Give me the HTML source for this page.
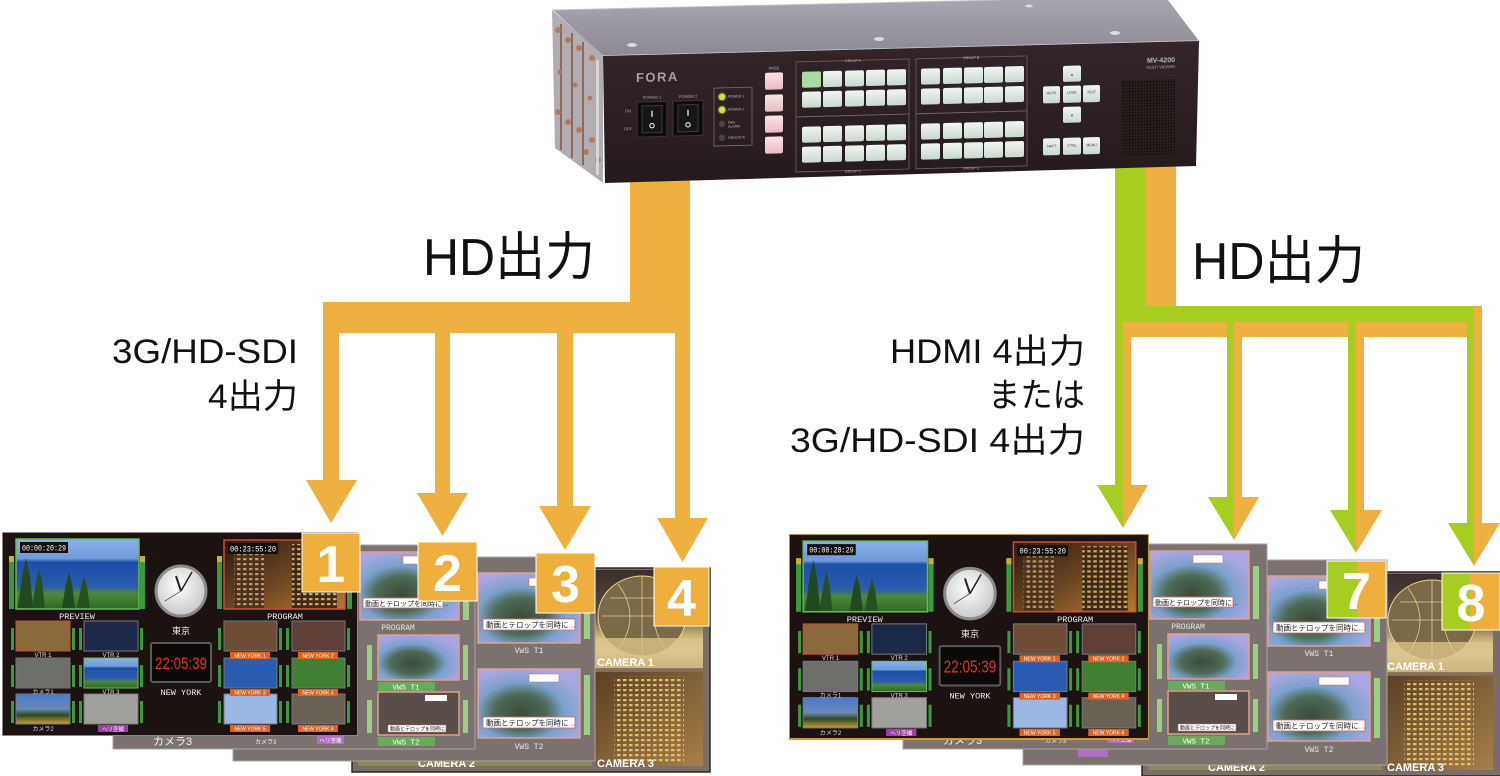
<!DOCTYPE html>
<html><head><meta charset="utf-8">
<style>
html,body{margin:0;padding:0;background:#fff;}
svg{display:block;}
text{font-family:"Liberation Sans","Noto Sans CJK JP",sans-serif;}
.m{font-family:"Liberation Mono","Noto Sans CJK JP",monospace;}
</style></head>
<body>
<svg width="1500" height="776" viewBox="0 0 1500 776" xmlns="http://www.w3.org/2000/svg">
<defs>
<linearGradient id="gTop" x1="0" y1="0" x2="0" y2="1"><stop offset="0" stop-color="#a8a5ae"/><stop offset="1" stop-color="#8c8994"/></linearGradient>
<linearGradient id="gFront" x1="0" y1="0" x2="0" y2="1"><stop offset="0" stop-color="#33252a"/><stop offset="1" stop-color="#251a1b"/></linearGradient>
<linearGradient id="gBtn" x1="0" y1="0" x2="0" y2="1"><stop offset="0" stop-color="#f0f6f2"/><stop offset="1" stop-color="#c9d8cf"/></linearGradient>
<linearGradient id="gPink" x1="0" y1="0" x2="0" y2="1"><stop offset="0" stop-color="#fae3e6"/><stop offset="1" stop-color="#e9bcc3"/></linearGradient>
<linearGradient id="gPrev" x1="0" y1="0" x2="0" y2="1"><stop offset="0" stop-color="#8ab2ea"/><stop offset="0.28" stop-color="#6d9ad8"/><stop offset="0.33" stop-color="#1d4fa8"/><stop offset="0.68" stop-color="#2a5cb0"/><stop offset="0.78" stop-color="#4a8a3a"/><stop offset="1" stop-color="#2f6a22"/></linearGradient>
<linearGradient id="gProg" x1="0" y1="0" x2="1" y2="1"><stop offset="0" stop-color="#2a1a12"/><stop offset="0.5" stop-color="#6a4420"/><stop offset="1" stop-color="#b87a30"/></linearGradient>
<linearGradient id="gMt" x1="0" y1="0" x2="0" y2="1"><stop offset="0" stop-color="#4a7ad0"/><stop offset="0.5" stop-color="#6a8ab0"/><stop offset="0.7" stop-color="#2a4a28"/><stop offset="1" stop-color="#c8a030"/></linearGradient>
<radialGradient id="gClock" cx="0.45" cy="0.4" r="0.6"><stop offset="0" stop-color="#ffffff"/><stop offset="1" stop-color="#c8c8c8"/></radialGradient>
<radialGradient id="gGlobe" cx="0.42" cy="0.62" r="0.65"><stop offset="0" stop-color="#3d4a38"/><stop offset="0.4" stop-color="#4e6a58"/><stop offset="0.65" stop-color="#7aa2cc"/><stop offset="1" stop-color="#aaa6e2"/></radialGradient>
<linearGradient id="gDome" x1="0" y1="0" x2="0" y2="1"><stop offset="0" stop-color="#3a2e2c"/><stop offset="0.45" stop-color="#5c4c3a"/><stop offset="0.65" stop-color="#c8b070"/><stop offset="0.8" stop-color="#e8d8a4"/><stop offset="1" stop-color="#8a7048"/></linearGradient>
<linearGradient id="gBuild" x1="0" y1="0" x2="1" y2="1"><stop offset="0" stop-color="#5a4024"/><stop offset="1" stop-color="#a88048"/></linearGradient>
<pattern id="pWin" width="6" height="5" patternUnits="userSpaceOnUse"><rect x="1" y="1" width="3.5" height="2.2" fill="#f2c868"/></pattern>
<pattern id="pGrille" width="3" height="3" patternUnits="userSpaceOnUse"><rect width="3" height="3" fill="#2a1e1e"/><circle cx="1.5" cy="1.5" r="0.9" fill="#0e0808"/></pattern>
</defs>

<rect width="1500" height="776" fill="#fff"/>

<!-- ===== LEFT ORANGE ARROWS ===== -->
<g fill="#EEB03F">
<rect x="630" y="150" width="60" height="183"/>
<rect x="323" y="302" width="367" height="31"/>
<rect x="323" y="302" width="16" height="180"/>
<polygon points="306,480 357,480 331,523"/>
<rect x="435" y="330" width="15" height="165"/>
<polygon points="417,493 468,493 442.5,536"/>
<rect x="557" y="330" width="16" height="178"/>
<polygon points="539,506 591,506 565,550"/>
<rect x="675" y="330" width="15" height="190"/>
<polygon points="657,518 708,518 682.5,562"/>
</g>

<!-- ===== RIGHT GREEN/ORANGE ARROWS ===== -->
<g fill="#EEB03F">
<rect x="1146" y="150" width="30" height="160"/>
<rect x="1123" y="322" width="344" height="15"/>
<rect x="1474" y="306" width="8" height="219"/>
<rect x="1123" y="322" width="8" height="165"/>
<rect x="1234" y="322" width="8" height="177"/>
<rect x="1356" y="322" width="8" height="190"/>
<polygon points="1123,485 1148,485 1123,528"/>
<polygon points="1234,497 1259,497 1234,540"/>
<polygon points="1356,510 1382,510 1356,553"/>
<polygon points="1474,523 1500,523 1474,566"/>
</g>
<g fill="#A7CD21">
<rect x="1115" y="150" width="31" height="172"/>
<rect x="1115" y="306" width="359" height="16"/>
<rect x="1115" y="306" width="8" height="181"/>
<rect x="1227" y="306" width="7" height="193"/>
<rect x="1348" y="306" width="8" height="206"/>
<rect x="1467" y="306" width="7" height="219"/>
<polygon points="1097,485 1123,485 1123,528"/>
<polygon points="1208,497 1234,497 1234,540"/>
<polygon points="1330,510 1356,510 1356,553"/>
<polygon points="1448,523 1474,523 1474,566"/>
</g>

<!-- ===== DEVICE ===== -->
<g>
<polygon points="553,10 1000,0 1168,0 1199,41 603,56" fill="url(#gTop)"/>
<line x1="603" y1="56" x2="1199" y2="41" stroke="#cfcbd3" stroke-width="1.5"/>
<line x1="553" y1="10" x2="1000" y2="0" stroke="#c4c0c8" stroke-width="1"/>
<ellipse cx="632" cy="45" rx="5" ry="2" fill="#dcdade"/>
<ellipse cx="879" cy="39" rx="5" ry="2" fill="#dcdade"/>
<ellipse cx="1115" cy="33" rx="5" ry="2" fill="#dcdade"/>
<ellipse cx="1029" cy="6" rx="4" ry="1.5" fill="#dcdade"/>
<polygon points="552,10 603,55 603,183 555,148" fill="#b2adb3"/>
<g fill="none" stroke="#8a6a5a" stroke-width="2">
<line x1="561" y1="24" x2="561" y2="150"/>
<line x1="572" y1="33" x2="572" y2="158"/>
<line x1="583" y1="42" x2="583" y2="165"/>
</g>
<g fill="#b47a5e">
<circle cx="558" cy="30" r="3"/><circle cx="568" cy="40" r="3"/><circle cx="579" cy="48" r="3"/><circle cx="592" cy="58" r="3"/>
<circle cx="558" cy="112" r="3"/><circle cx="568" cy="122" r="3"/><circle cx="579" cy="130" r="3"/><circle cx="592" cy="140" r="3"/>
<circle cx="560" cy="72" r="2.5"/><circle cx="575" cy="85" r="2.5"/><circle cx="590" cy="98" r="2.5"/>
<circle cx="598" cy="160" r="3"/><circle cx="586" cy="152" r="3"/>
</g>
<rect x="596" y="60" width="3" height="115" fill="#d8d4d8"/>
<polygon points="603,56 1199,41 1196,166 605,183" fill="url(#gFront)"/>
<g transform="translate(603,56) skewY(-1.5)">
<text x="33" y="27" font-size="13" fill="#a9a0a2" font-weight="bold" letter-spacing="1.5">FORA</text>
<text x="49" y="44" font-size="4" fill="#aaa" text-anchor="middle">POWER 1</text>
<text x="85" y="44" font-size="4" fill="#aaa" text-anchor="middle">POWER 2</text>
<text x="22" y="57" font-size="4" fill="#aaa">ON</text>
<text x="21" y="75" font-size="4" fill="#aaa">OFF</text>
<rect x="34" y="47" width="30" height="35" fill="#0d0b0b" stroke="#3a3434"/>
<rect x="39" y="51" width="20" height="27" fill="#181515" stroke="#4a4444" stroke-width="0.8"/>
<line x1="49" y1="56" x2="49" y2="62" stroke="#fff" stroke-width="1.2"/>
<circle cx="49" cy="71" r="2.2" fill="none" stroke="#fff" stroke-width="1"/>
<rect x="70" y="47" width="30" height="35" fill="#0d0b0b" stroke="#3a3434"/>
<rect x="75" y="51" width="20" height="27" fill="#181515" stroke="#4a4444" stroke-width="0.8"/>
<line x1="85" y1="56" x2="85" y2="62" stroke="#fff" stroke-width="1.2"/>
<circle cx="85" cy="71" r="2.2" fill="none" stroke="#fff" stroke-width="1"/>
<rect x="111" y="35" width="38" height="58" fill="none" stroke="#7a7070" stroke-width="0.8"/>
<circle cx="119" cy="44" r="4.5" fill="#c6e82a" opacity="0.35"/>
<circle cx="119" cy="44" r="3.2" fill="#c9ea2c"/>
<circle cx="119" cy="57" r="4.5" fill="#c6e82a" opacity="0.35"/>
<circle cx="119" cy="57" r="3.2" fill="#c9ea2c"/>
<circle cx="119" cy="71" r="3.2" fill="#4a4646"/>
<circle cx="119" cy="85" r="3.2" fill="#4a4646"/>
<text x="125" y="45" font-size="3.5" fill="#bbb">POWER 1</text>
<text x="125" y="58" font-size="3.5" fill="#bbb">POWER 2</text>
<text x="125" y="71" font-size="3.5" fill="#bbb">FAN</text>
<text x="125" y="75" font-size="3.5" fill="#bbb">ALARM</text>
<text x="125" y="86" font-size="3.5" fill="#bbb">GENLOCK</text>
<text x="171" y="18" font-size="4" fill="#bbb" text-anchor="middle">PAGE</text>
<rect x="162" y="21" width="18" height="17" rx="2" fill="url(#gPink)"/>
<rect x="162" y="43" width="18" height="17" rx="2" fill="url(#gPink)"/>
<rect x="162" y="64" width="18" height="17" rx="2" fill="url(#gPink)"/>
<rect x="162" y="85" width="18" height="17" rx="2" fill="url(#gPink)"/>
<g fill="none" stroke="#6e6262" stroke-width="0.8">
<rect x="193" y="11" width="113" height="55"/><rect x="193" y="66" width="113" height="55"/>
<rect x="313" y="11" width="111" height="55"/><rect x="313" y="66" width="111" height="55"/>
</g>
<g font-size="3.5" fill="#bbb" text-anchor="middle">
<text x="250" y="12.5">GROUP A</text><text x="368" y="12.5">GROUP B</text>
<text x="250" y="123">GROUP C</text><text x="368" y="123">GROUP D</text>
</g>
<g fill="url(#gBtn)">
<rect x="199" y="21" width="19" height="16" rx="2" fill="#a9dca4"/><rect x="220" y="21" width="19" height="16" rx="2"/><rect x="242" y="21" width="19" height="16" rx="2"/><rect x="263" y="21" width="19" height="16" rx="2"/><rect x="284" y="21" width="19" height="16" rx="2"/>
<rect x="199" y="41" width="19" height="16" rx="2"/><rect x="220" y="41" width="19" height="16" rx="2"/><rect x="242" y="41" width="19" height="16" rx="2"/><rect x="263" y="41" width="19" height="16" rx="2"/><rect x="284" y="41" width="19" height="16" rx="2"/>
<rect x="199" y="76" width="19" height="16" rx="2"/><rect x="220" y="76" width="19" height="16" rx="2"/><rect x="242" y="76" width="19" height="16" rx="2"/><rect x="263" y="76" width="19" height="16" rx="2"/><rect x="284" y="76" width="19" height="16" rx="2"/>
<rect x="199" y="96" width="19" height="16" rx="2"/><rect x="220" y="96" width="19" height="16" rx="2"/><rect x="242" y="96" width="19" height="16" rx="2"/><rect x="263" y="96" width="19" height="16" rx="2"/><rect x="284" y="96" width="19" height="16" rx="2"/>
<rect x="318" y="21" width="19" height="16" rx="2"/><rect x="340" y="21" width="19" height="16" rx="2"/><rect x="361" y="21" width="19" height="16" rx="2"/><rect x="381" y="21" width="19" height="16" rx="2"/><rect x="402" y="21" width="19" height="16" rx="2"/>
<rect x="318" y="41" width="19" height="16" rx="2"/><rect x="340" y="41" width="19" height="16" rx="2"/><rect x="361" y="41" width="19" height="16" rx="2"/><rect x="381" y="41" width="19" height="16" rx="2"/><rect x="402" y="41" width="19" height="16" rx="2"/>
<rect x="318" y="76" width="19" height="16" rx="2"/><rect x="340" y="76" width="19" height="16" rx="2"/><rect x="361" y="76" width="19" height="16" rx="2"/><rect x="381" y="76" width="19" height="16" rx="2"/><rect x="402" y="76" width="19" height="16" rx="2"/>
<rect x="318" y="96" width="19" height="16" rx="2"/><rect x="340" y="96" width="19" height="16" rx="2"/><rect x="361" y="96" width="19" height="16" rx="2"/><rect x="381" y="96" width="19" height="16" rx="2"/><rect x="402" y="96" width="19" height="16" rx="2"/>
<rect x="460" y="22" width="18" height="16" rx="2"/>
<rect x="440" y="42" width="17" height="17" rx="2"/><rect x="460" y="42" width="18" height="17" rx="2"/><rect x="480" y="42" width="17" height="17" rx="2"/>
<rect x="460" y="63" width="18" height="16" rx="2"/>
<rect x="440" y="94" width="17" height="17" rx="2"/><rect x="460" y="94" width="18" height="17" rx="2"/><rect x="480" y="94" width="17" height="17" rx="2"/>
</g>
<g font-size="3.5" fill="#333" text-anchor="middle">
<text x="469" y="32">▲</text><text x="469" y="73">▼</text>
<text x="448.5" y="50">MUTE</text><text x="469" y="50">LOCK</text><text x="488.5" y="50">TEST</text>
<text x="448.5" y="103">SHIFT</text><text x="469" y="103">CTRL</text><text x="488.5" y="103">MENU</text>
</g>
<text x="572" y="21" font-size="7" fill="#c0b8b8" text-anchor="end" font-weight="bold">MV-4200</text>
<text x="572" y="27" font-size="4" fill="#b0a8a8" text-anchor="end">MULTI VIEWER</text>
<rect x="518" y="38" width="54" height="77" fill="url(#pGrille)"/>
</g>
</g>

<!-- ===== LABEL TEXT ===== -->
<g fill="#111">
<text x="423" y="275" font-size="52" textLength="172" lengthAdjust="spacingAndGlyphs">HD出力</text>
<text x="1192" y="279" font-size="52" textLength="173" lengthAdjust="spacingAndGlyphs">HD出力</text>
<text x="298" y="363" font-size="34" text-anchor="end" textLength="186" lengthAdjust="spacingAndGlyphs">3G/HD-SDI</text>
<text x="298" y="408" font-size="34" text-anchor="end" textLength="90" lengthAdjust="spacingAndGlyphs">4出力</text>
<text x="1085" y="363" font-size="34" text-anchor="end" textLength="195" lengthAdjust="spacingAndGlyphs">HDMI 4出力</text>
<text x="1085" y="407" font-size="34" text-anchor="end" textLength="97" lengthAdjust="spacingAndGlyphs">または</text>
<text x="1085" y="452" font-size="34" text-anchor="end" textLength="295" lengthAdjust="spacingAndGlyphs">3G/HD-SDI 4出力</text>
</g>

<!-- ===== LEFT SCREENS ===== -->
<g transform="translate(352,568)">
<rect x="0" y="0" width="358" height="204" fill="#7a6e68" stroke="#2e2626" stroke-width="1.5"/>
<rect x="6" y="104" width="234" height="94" fill="#8e8a56"/>
<rect x="243" y="2" width="108" height="100" fill="url(#gDome)"/>
<ellipse cx="290" cy="48" rx="44" ry="40" fill="#7a6a48" stroke="#e8d890" stroke-width="1"/>
<path d="M250,48 H330 M258,30 H322 M290,8 V88 M266,16 Q290,48 266,82 M314,16 Q290,48 314,82" stroke="#e0d08a" stroke-width="0.8" fill="none"/>
<rect x="243" y="70" width="108" height="30" fill="#d8c488" opacity="0.8"/>
<text x="245" y="98" font-size="11" font-weight="bold" fill="#fff">CAMERA 1</text>
<rect x="243" y="104" width="108" height="94" fill="url(#gBuild)"/>
<rect x="262" y="108" width="70" height="88" fill="url(#pWin)" opacity="0.9"/>
<text x="245" y="199" font-size="11" font-weight="bold" fill="#fff">CAMERA 3</text>
<text x="66" y="199" font-size="11" font-weight="bold" fill="#fff">CAMERA 2</text>
</g>
<g transform="translate(233,557)">
<rect x="0" y="0" width="362" height="204" fill="#7b7270" stroke="#aaa4a2"/>
<rect x="351" y="22" width="6" height="60" fill="#9ccf86"/>
<rect x="351" y="118" width="6" height="60" fill="#9ccf86"/>
<rect x="245" y="16" width="102" height="70" fill="url(#gGlobe)" stroke="#e0a08a" stroke-width="1.5"/>
<rect x="296" y="21" width="30" height="8" fill="#fff" stroke="#c66" stroke-width="0.5"/>
<rect x="250" y="62" width="92" height="11" fill="#fff" stroke="#c66" stroke-width="0.8"/>
<text x="253" y="70.5" font-size="7.5" fill="#222">動画とテロップを同時に…</text>
<text class="m" x="296" y="96" font-size="8" fill="#e6e6e6" text-anchor="middle">VWS T1</text>
<rect x="245" y="112" width="102" height="69" fill="url(#gGlobe)" stroke="#e0a08a" stroke-width="1.5"/>
<rect x="296" y="117" width="30" height="8" fill="#fff" stroke="#c66" stroke-width="0.5"/>
<rect x="250" y="160" width="92" height="11" fill="#fff" stroke="#c66" stroke-width="0.8"/>
<text x="253" y="168.5" font-size="7.5" fill="#222">動画とテロップを同時に…</text>
<text class="m" x="296" y="192" font-size="8" fill="#e6e6e6" text-anchor="middle">VWS T2</text>
</g>
<g transform="translate(113,545)">
<rect x="0" y="0" width="362" height="204" fill="#7b7270" stroke="#aaa4a2"/>
<rect x="236" y="25" width="6" height="50" fill="#9ccf86"/>
<rect x="350" y="22" width="6" height="53" fill="#9ccf86"/>
<rect x="247" y="7" width="99" height="68" fill="url(#gGlobe)" stroke="#e0a08a" stroke-width="1.5"/>
<rect x="290" y="11" width="30" height="8" fill="#fff" stroke="#c66" stroke-width="0.5"/>
<rect x="250" y="53" width="80" height="10" fill="#fff" stroke="#c66" stroke-width="0.8"/>
<text x="252" y="61" font-size="7" fill="#222">動画とテロップを同時に…</text>
<text class="m" x="285" y="85" font-size="8" fill="#e6e6e6" text-anchor="middle">PROGRAM</text>
<rect x="254" y="100" width="5" height="35" fill="#9ccf86"/>
<rect x="350" y="100" width="5" height="35" fill="#9ccf86"/>
<rect x="265" y="90" width="81" height="45" fill="url(#gGlobe)" stroke="#e0a08a" stroke-width="1.5"/>
<rect x="265" y="137" width="57" height="9" fill="#6aaa5e"/>
<text class="m" x="293" y="144.5" font-size="7.5" fill="#fff" text-anchor="middle">VWS T1</text>
<rect x="254" y="155" width="5" height="33" fill="#9ccf86"/>
<rect x="350" y="155" width="5" height="33" fill="#9ccf86"/>
<rect x="265" y="147" width="81" height="43" fill="#5a4e4a" stroke="#e0a08a" stroke-width="1.5"/>
<rect x="312" y="150" width="22" height="6" fill="#fff"/>
<rect x="275" y="180" width="58" height="7" fill="#fff" stroke="#c66" stroke-width="0.5"/>
<text x="277" y="185.5" font-size="5" fill="#222">動画とテロップを同時に…</text>
<rect x="265" y="192" width="57" height="9" fill="#6aaa5e"/>
<text class="m" x="293" y="199.5" font-size="7.5" fill="#fff" text-anchor="middle">VWS T2</text>
<text x="40" y="200" font-size="11" fill="#f2f2f2">カメラ3</text>
<text x="142" y="199" font-size="6" fill="#eee">カメラ3</text>
<rect x="204" y="191" width="27" height="8" fill="#b070c0"/>
<text x="217.5" y="197.5" font-size="5.5" fill="#fff" text-anchor="middle">ヘリ空撮</text>
</g>
<g transform="translate(2,532)">
<rect x="0.5" y="0.5" width="355" height="203" fill="#1c1212" stroke="#8e8686"/>
<rect x="7" y="24" width="5" height="53" fill="#3a9a3c"/><rect x="7" y="24" width="5" height="6" fill="#c8b030"/>
<rect x="138" y="24" width="5" height="53" fill="#3a9a3c"/><rect x="138" y="24" width="5" height="6" fill="#c8b030"/>
<rect x="14" y="7" width="123" height="70" fill="url(#gPrev)" stroke="#66bb4a" stroke-width="1.5"/>
<polygon points="16,76 20,45 24,26 28,45 31,76" fill="#1f4a1c"/>
<polygon points="30,76 34,50 37,36 40,50 43,76" fill="#24521e"/>
<polygon points="60,76 64,52 67,40 70,52 73,76" fill="#1f4a1c"/>
<polygon points="75,76 79,55 82,44 85,55 88,76" fill="#24521e"/>
<rect x="18" y="10" width="48" height="11" fill="#151010"/>
<text class="m" x="42" y="18.5" font-size="8" fill="#fff" text-anchor="middle" textLength="44" lengthAdjust="spacingAndGlyphs">00:00:20:29</text>
<text class="m" x="75" y="87" font-size="8.5" fill="#eee" text-anchor="middle">PREVIEW</text>
<circle cx="179" cy="59" r="25" fill="url(#gClock)" stroke="#8a8a8a" stroke-width="3"/>
<line x1="179" y1="59" x2="174" y2="44" stroke="#222" stroke-width="2"/>
<line x1="179" y1="59" x2="190" y2="40" stroke="#222" stroke-width="1.5"/>
<line x1="179" y1="59" x2="163" y2="69" stroke="#333" stroke-width="0.7"/>
<text x="179" y="102" font-size="9" fill="#eee" text-anchor="middle">東京</text>
<rect x="149" y="111" width="60" height="39" rx="2" fill="#0d0909" stroke="#5a5a5a" stroke-width="2"/>
<text x="179" y="137" font-size="17" fill="#e0332a" text-anchor="middle" textLength="52" lengthAdjust="spacingAndGlyphs">22:05:39</text>
<text class="m" x="179" y="163" font-size="8.5" fill="#eee" text-anchor="middle">NEW YORK</text>
<rect x="215" y="24" width="5" height="53" fill="#3a9a3c"/><rect x="215" y="24" width="5" height="6" fill="#c8b030"/>
<rect x="345" y="24" width="5" height="53" fill="#3a9a3c"/><rect x="345" y="24" width="5" height="6" fill="#c8b030"/>
<rect x="222" y="8" width="121" height="69" fill="url(#gProg)" stroke="#d04a38" stroke-width="1.5"/>
<rect x="232" y="20" width="30" height="56" fill="#4a3220"/><rect x="232" y="20" width="30" height="56" fill="url(#pWin)" opacity="0.7"/>
<rect x="290" y="12" width="45" height="64" fill="#3e2a1a"/><rect x="290" y="12" width="45" height="64" fill="url(#pWin)" opacity="0.8"/>
<rect x="226" y="11" width="50" height="11" fill="#151010"/>
<text class="m" x="251" y="19.5" font-size="8" fill="#fff" text-anchor="middle" textLength="46" lengthAdjust="spacingAndGlyphs">00:23:55:20</text>
<text class="m" x="283" y="87" font-size="8.5" fill="#eee" text-anchor="middle">PROGRAM</text>
<g fill="#3a9a3c">
<rect x="9" y="96" width="3" height="22"/><rect x="70" y="96" width="3" height="22"/><rect x="77" y="96" width="3" height="22"/><rect x="138" y="96" width="3" height="22"/>
<rect x="9" y="133" width="3" height="22"/><rect x="70" y="133" width="3" height="22"/><rect x="77" y="133" width="3" height="22"/><rect x="138" y="133" width="3" height="22"/>
<rect x="9" y="169" width="3" height="22"/><rect x="70" y="169" width="3" height="22"/><rect x="77" y="169" width="3" height="22"/><rect x="138" y="169" width="3" height="22"/>
<rect x="216" y="96" width="3" height="22"/><rect x="277" y="96" width="3" height="22"/><rect x="284" y="96" width="3" height="22"/><rect x="345" y="96" width="3" height="22"/>
<rect x="216" y="133" width="3" height="22"/><rect x="277" y="133" width="3" height="22"/><rect x="284" y="133" width="3" height="22"/><rect x="345" y="133" width="3" height="22"/>
<rect x="216" y="169" width="3" height="22"/><rect x="277" y="169" width="3" height="22"/><rect x="284" y="169" width="3" height="22"/><rect x="345" y="169" width="3" height="22"/>
</g>
<rect x="14" y="89" width="54" height="30" fill="#8a6a3a" stroke="#d04a38"/>
<rect x="82" y="89" width="54" height="30" fill="#1c2a48" stroke="#777"/>
<rect x="14" y="126" width="54" height="30" fill="#6e6e6a" stroke="#777"/>
<rect x="82" y="126" width="54" height="30" fill="url(#gPrev)" stroke="#66bb4a"/>
<rect x="14" y="162" width="54" height="30" fill="url(#gMt)" stroke="#777"/>
<rect x="82" y="162" width="54" height="30" fill="#a0a09c" stroke="#777"/>
<g class="m" font-size="6" fill="#ddd" text-anchor="middle">
<text x="41" y="125">VTR 1</text><text x="109" y="125">VTR 2</text>
<text x="41" y="162">カメラ1</text><text x="109" y="162">VTR 3</text>
<text x="41" y="199">カメラ2</text>
</g>
<rect x="96" y="193" width="30" height="7" fill="#9a40a8"/>
<text x="111" y="199" font-size="5.5" fill="#fff" text-anchor="middle">ヘリ空撮</text>
<rect x="222" y="89" width="53" height="30" fill="#6e4e36" stroke="#777"/>
<rect x="290" y="89" width="53" height="30" fill="#5e4038" stroke="#777"/>
<rect x="222" y="126" width="53" height="30" fill="#2a5cb4" stroke="#777"/>
<rect x="290" y="126" width="53" height="30" fill="#3f8032" stroke="#777"/>
<rect x="222" y="162" width="53" height="30" fill="#9ab8e4" stroke="#777"/>
<rect x="290" y="162" width="53" height="30" fill="#6a6254" stroke="#777"/>
<g fill="#e0621c">
<rect x="228" y="120" width="40" height="7"/><rect x="296" y="120" width="40" height="7"/>
<rect x="228" y="157" width="40" height="7"/><rect x="296" y="157" width="40" height="7"/>
<rect x="228" y="193" width="40" height="7"/><rect x="296" y="193" width="40" height="7"/>
</g>
<g font-size="5" fill="#fff" text-anchor="middle">
<text x="248" y="125.5">NEW YORK 1</text><text x="316" y="125.5">NEW YORK 2</text>
<text x="248" y="162.5">NEW YORK 3</text><text x="316" y="162.5">NEW YORK 4</text>
<text x="248" y="198.5">NEW YORK 5</text><text x="316" y="198.5">NEW YORK 6</text>
</g>
</g>

<!-- ===== RIGHT SCREENS ===== -->
<g transform="translate(1142,572)">
<rect x="0" y="0" width="362" height="204" fill="#7a6e68" stroke="#2e2626" stroke-width="1.5"/>
<rect x="6" y="104" width="234" height="94" fill="#8e8a56"/>
<rect x="243" y="2" width="108" height="100" fill="url(#gDome)"/>
<ellipse cx="290" cy="48" rx="44" ry="40" fill="#7a6a48" stroke="#e8d890" stroke-width="1"/>
<path d="M250,48 H330 M258,30 H322 M290,8 V88 M266,16 Q290,48 266,82 M314,16 Q290,48 314,82" stroke="#e0d08a" stroke-width="0.8" fill="none"/>
<rect x="243" y="70" width="108" height="30" fill="#d8c488" opacity="0.8"/>
<text x="245" y="98" font-size="11" font-weight="bold" fill="#fff">CAMERA 1</text>
<rect x="243" y="104" width="108" height="94" fill="url(#gBuild)"/>
<rect x="262" y="108" width="70" height="88" fill="url(#pWin)" opacity="0.9"/>
<text x="245" y="199" font-size="11" font-weight="bold" fill="#fff">CAMERA 3</text>
<text x="66" y="199" font-size="11" font-weight="bold" fill="#fff">CAMERA 2</text>
</g>
<g transform="translate(1023,560)">
<rect x="0" y="0" width="364" height="205" fill="#7b7270" stroke="#aaa4a2"/>
<rect x="351" y="22" width="6" height="60" fill="#9ccf86"/>
<rect x="351" y="118" width="6" height="60" fill="#9ccf86"/>
<rect x="245" y="16" width="102" height="70" fill="url(#gGlobe)" stroke="#e0a08a" stroke-width="1.5"/>
<rect x="296" y="21" width="30" height="8" fill="#fff" stroke="#c66" stroke-width="0.5"/>
<rect x="250" y="62" width="92" height="11" fill="#fff" stroke="#c66" stroke-width="0.8"/>
<text x="253" y="70.5" font-size="7.5" fill="#222">動画とテロップを同時に…</text>
<text class="m" x="296" y="96" font-size="8" fill="#e6e6e6" text-anchor="middle">VWS T1</text>
<rect x="245" y="112" width="102" height="69" fill="url(#gGlobe)" stroke="#e0a08a" stroke-width="1.5"/>
<rect x="296" y="117" width="30" height="8" fill="#fff" stroke="#c66" stroke-width="0.5"/>
<rect x="250" y="160" width="92" height="11" fill="#fff" stroke="#c66" stroke-width="0.8"/>
<text x="253" y="168.5" font-size="7.5" fill="#222">動画とテロップを同時に…</text>
<text class="m" x="296" y="192" font-size="8" fill="#e6e6e6" text-anchor="middle">VWS T2</text>
<rect x="55" y="189" width="30" height="8" fill="#b070c0"/>
</g>
<g transform="translate(903,544)">
<rect x="0" y="0" width="364" height="205" fill="#7b7270" stroke="#aaa4a2"/>
<rect x="236" y="25" width="6" height="50" fill="#9ccf86"/>
<rect x="350" y="22" width="6" height="53" fill="#9ccf86"/>
<rect x="247" y="7" width="99" height="68" fill="url(#gGlobe)" stroke="#e0a08a" stroke-width="1.5"/>
<rect x="290" y="11" width="30" height="8" fill="#fff" stroke="#c66" stroke-width="0.5"/>
<rect x="250" y="53" width="80" height="10" fill="#fff" stroke="#c66" stroke-width="0.8"/>
<text x="252" y="61" font-size="7" fill="#222">動画とテロップを同時に…</text>
<text class="m" x="285" y="85" font-size="8" fill="#e6e6e6" text-anchor="middle">PROGRAM</text>
<rect x="254" y="100" width="5" height="35" fill="#9ccf86"/>
<rect x="350" y="100" width="5" height="35" fill="#9ccf86"/>
<rect x="265" y="90" width="81" height="45" fill="url(#gGlobe)" stroke="#e0a08a" stroke-width="1.5"/>
<rect x="265" y="137" width="57" height="9" fill="#6aaa5e"/>
<text class="m" x="293" y="144.5" font-size="7.5" fill="#fff" text-anchor="middle">VWS T1</text>
<rect x="254" y="155" width="5" height="33" fill="#9ccf86"/>
<rect x="350" y="155" width="5" height="33" fill="#9ccf86"/>
<rect x="265" y="147" width="81" height="43" fill="#5a4e4a" stroke="#e0a08a" stroke-width="1.5"/>
<rect x="312" y="150" width="22" height="6" fill="#fff"/>
<rect x="275" y="180" width="58" height="7" fill="#fff" stroke="#c66" stroke-width="0.5"/>
<text x="277" y="185.5" font-size="5" fill="#222">動画とテロップを同時に…</text>
<rect x="265" y="192" width="57" height="9" fill="#6aaa5e"/>
<text class="m" x="293" y="199.5" font-size="7.5" fill="#fff" text-anchor="middle">VWS T2</text>
<text x="40" y="200" font-size="11" fill="#f2f2f2">カメラ3</text>
<text x="142" y="199" font-size="6" fill="#eee">カメラ3</text>
<rect x="204" y="191" width="27" height="8" fill="#b070c0"/>
<text x="217.5" y="197.5" font-size="5.5" fill="#fff" text-anchor="middle">ヘリ空撮</text>
</g>
<g transform="translate(789,534) scale(1.011,1.01)">
<rect x="0.5" y="0.5" width="355" height="203" fill="#1c1212" stroke="#b8924a"/>
<rect x="7" y="24" width="5" height="53" fill="#3a9a3c"/><rect x="7" y="24" width="5" height="6" fill="#c8b030"/>
<rect x="138" y="24" width="5" height="53" fill="#3a9a3c"/><rect x="138" y="24" width="5" height="6" fill="#c8b030"/>
<rect x="14" y="7" width="123" height="70" fill="url(#gPrev)" stroke="#66bb4a" stroke-width="1.5"/>
<polygon points="16,76 20,45 24,26 28,45 31,76" fill="#1f4a1c"/>
<polygon points="30,76 34,50 37,36 40,50 43,76" fill="#24521e"/>
<polygon points="60,76 64,52 67,40 70,52 73,76" fill="#1f4a1c"/>
<polygon points="75,76 79,55 82,44 85,55 88,76" fill="#24521e"/>
<rect x="18" y="10" width="48" height="11" fill="#151010"/>
<text class="m" x="42" y="18.5" font-size="8" fill="#fff" text-anchor="middle" textLength="44" lengthAdjust="spacingAndGlyphs">00:00:20:29</text>
<text class="m" x="75" y="87" font-size="8.5" fill="#eee" text-anchor="middle">PREVIEW</text>
<circle cx="179" cy="59" r="25" fill="url(#gClock)" stroke="#8a8a8a" stroke-width="3"/>
<line x1="179" y1="59" x2="174" y2="44" stroke="#222" stroke-width="2"/>
<line x1="179" y1="59" x2="190" y2="40" stroke="#222" stroke-width="1.5"/>
<line x1="179" y1="59" x2="163" y2="69" stroke="#333" stroke-width="0.7"/>
<text x="179" y="102" font-size="9" fill="#eee" text-anchor="middle">東京</text>
<rect x="149" y="111" width="60" height="39" rx="2" fill="#0d0909" stroke="#5a5a5a" stroke-width="2"/>
<text x="179" y="137" font-size="17" fill="#e0332a" text-anchor="middle" textLength="52" lengthAdjust="spacingAndGlyphs">22:05:39</text>
<text class="m" x="179" y="163" font-size="8.5" fill="#eee" text-anchor="middle">NEW YORK</text>
<rect x="215" y="24" width="5" height="53" fill="#3a9a3c"/><rect x="215" y="24" width="5" height="6" fill="#c8b030"/>
<rect x="345" y="24" width="5" height="53" fill="#3a9a3c"/><rect x="345" y="24" width="5" height="6" fill="#c8b030"/>
<rect x="222" y="8" width="121" height="69" fill="url(#gProg)" stroke="#d04a38" stroke-width="1.5"/>
<rect x="232" y="20" width="30" height="56" fill="#4a3220"/><rect x="232" y="20" width="30" height="56" fill="url(#pWin)" opacity="0.7"/>
<rect x="290" y="12" width="45" height="64" fill="#3e2a1a"/><rect x="290" y="12" width="45" height="64" fill="url(#pWin)" opacity="0.8"/>
<rect x="226" y="11" width="50" height="11" fill="#151010"/>
<text class="m" x="251" y="19.5" font-size="8" fill="#fff" text-anchor="middle" textLength="46" lengthAdjust="spacingAndGlyphs">00:23:55:20</text>
<text class="m" x="283" y="87" font-size="8.5" fill="#eee" text-anchor="middle">PROGRAM</text>
<g fill="#3a9a3c">
<rect x="9" y="96" width="3" height="22"/><rect x="70" y="96" width="3" height="22"/><rect x="77" y="96" width="3" height="22"/><rect x="138" y="96" width="3" height="22"/>
<rect x="9" y="133" width="3" height="22"/><rect x="70" y="133" width="3" height="22"/><rect x="77" y="133" width="3" height="22"/><rect x="138" y="133" width="3" height="22"/>
<rect x="9" y="169" width="3" height="22"/><rect x="70" y="169" width="3" height="22"/><rect x="77" y="169" width="3" height="22"/><rect x="138" y="169" width="3" height="22"/>
<rect x="216" y="96" width="3" height="22"/><rect x="277" y="96" width="3" height="22"/><rect x="284" y="96" width="3" height="22"/><rect x="345" y="96" width="3" height="22"/>
<rect x="216" y="133" width="3" height="22"/><rect x="277" y="133" width="3" height="22"/><rect x="284" y="133" width="3" height="22"/><rect x="345" y="133" width="3" height="22"/>
<rect x="216" y="169" width="3" height="22"/><rect x="277" y="169" width="3" height="22"/><rect x="284" y="169" width="3" height="22"/><rect x="345" y="169" width="3" height="22"/>
</g>
<rect x="14" y="89" width="54" height="30" fill="#8a6a3a" stroke="#d04a38"/>
<rect x="82" y="89" width="54" height="30" fill="#1c2a48" stroke="#777"/>
<rect x="14" y="126" width="54" height="30" fill="#6e6e6a" stroke="#777"/>
<rect x="82" y="126" width="54" height="30" fill="url(#gPrev)" stroke="#66bb4a"/>
<rect x="14" y="162" width="54" height="30" fill="url(#gMt)" stroke="#777"/>
<rect x="82" y="162" width="54" height="30" fill="#a0a09c" stroke="#777"/>
<g class="m" font-size="6" fill="#ddd" text-anchor="middle">
<text x="41" y="125">VTR 1</text><text x="109" y="125">VTR 2</text>
<text x="41" y="162">カメラ1</text><text x="109" y="162">VTR 3</text>
<text x="41" y="199">カメラ2</text>
</g>
<rect x="96" y="193" width="30" height="7" fill="#9a40a8"/>
<text x="111" y="199" font-size="5.5" fill="#fff" text-anchor="middle">ヘリ空撮</text>
<rect x="222" y="89" width="53" height="30" fill="#6e4e36" stroke="#777"/>
<rect x="290" y="89" width="53" height="30" fill="#5e4038" stroke="#777"/>
<rect x="222" y="126" width="53" height="30" fill="#2a5cb4" stroke="#777"/>
<rect x="290" y="126" width="53" height="30" fill="#3f8032" stroke="#777"/>
<rect x="222" y="162" width="53" height="30" fill="#9ab8e4" stroke="#777"/>
<rect x="290" y="162" width="53" height="30" fill="#6a6254" stroke="#777"/>
<g fill="#e0621c">
<rect x="228" y="120" width="40" height="7"/><rect x="296" y="120" width="40" height="7"/>
<rect x="228" y="157" width="40" height="7"/><rect x="296" y="157" width="40" height="7"/>
<rect x="228" y="193" width="40" height="7"/><rect x="296" y="193" width="40" height="7"/>
</g>
<g font-size="5" fill="#fff" text-anchor="middle">
<text x="248" y="125.5">NEW YORK 1</text><text x="316" y="125.5">NEW YORK 2</text>
<text x="248" y="162.5">NEW YORK 3</text><text x="316" y="162.5">NEW YORK 4</text>
<text x="248" y="198.5">NEW YORK 5</text><text x="316" y="198.5">NEW YORK 6</text>
</g>
<rect x="0" y="202" width="356" height="2" fill="#d89a30"/>
</g>

<!-- ===== BADGES ===== -->
<g font-size="52" font-weight="bold" fill="#fff" text-anchor="middle">
<rect x="302" y="533" width="58" height="59" fill="#EEAF3C" stroke="#fff" stroke-width="1"/>
<text x="331" y="582">1</text>
<rect x="418" y="542" width="59" height="59" fill="#EEAF3C" stroke="#fff" stroke-width="1"/>
<text x="447.5" y="591">2</text>
<rect x="536" y="553" width="59" height="60" fill="#EEAF3C" stroke="#fff" stroke-width="1"/>
<text x="565.5" y="602">3</text>
<rect x="654" y="567" width="55" height="59" fill="#EEAF3C" stroke="#fff" stroke-width="1"/>
<text x="681.5" y="616">4</text>
<rect x="1327" y="561" width="30" height="57" fill="#A7CD21"/>
<rect x="1357" y="561" width="29" height="57" fill="#EEAF3C"/>
<rect x="1327" y="561" width="59" height="57" fill="none" stroke="#fff" stroke-width="1"/>
<text x="1356.5" y="609">7</text>
<rect x="1442" y="573" width="28" height="57" fill="#A7CD21"/>
<rect x="1470" y="573" width="30" height="57" fill="#EEAF3C"/>
<rect x="1442" y="573" width="58" height="57" fill="none" stroke="#fff" stroke-width="1"/>
<text x="1471" y="621">8</text>
</g>
</svg>
</body></html>
